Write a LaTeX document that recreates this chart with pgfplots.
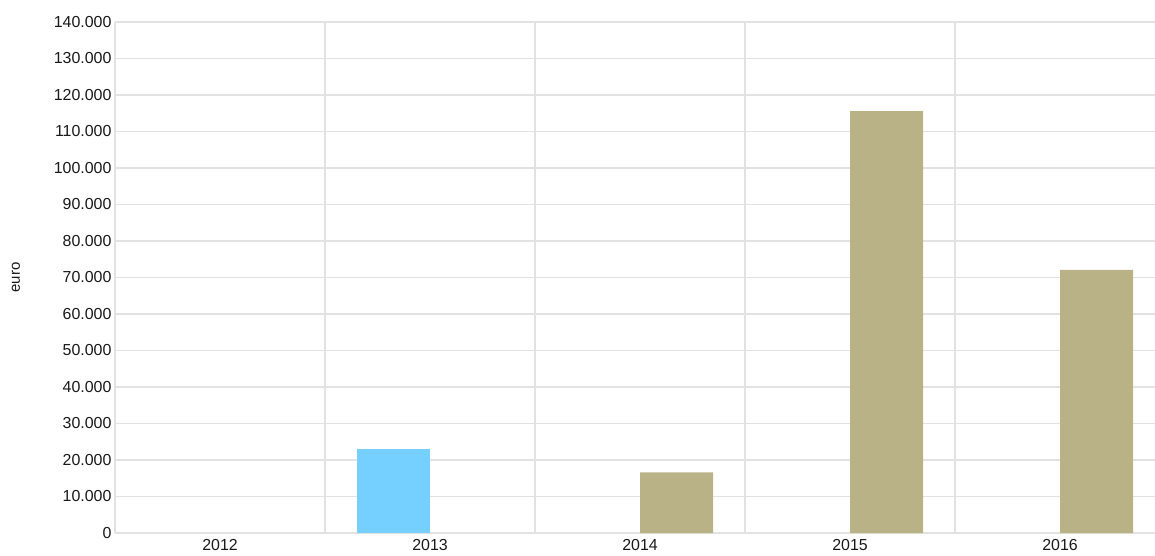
\documentclass[border=0pt]{standalone}
\usepackage{pgfplots}
\pgfplotsset{compat=1.18}
\usepackage{fontspec}
\setmainfont{Liberation Sans}

\definecolor{barblue}{RGB}{117,208,255}
\definecolor{bartan}{RGB}{185,178,135}
\definecolor{gridgray}{RGB}{226,226,226}

\begin{document}
\begin{tikzpicture}
\begin{axis}[
    name=ax,
    scale only axis,
    width=1040bp, height=511bp,
    ybar=0pt, bar width=73bp,
    xmin=-0.5, xmax=4.452,
    ymin=0, ymax=140000,
    xtick={0,1,2,3,4},
    xticklabels={2012,2013,2014,2015,2016},
    minor xtick={0.5,1.5,2.5,3.5},
    ytick distance=10000,
    scaled y ticks=false,
    yticklabel={\pgfmathprintnumber[fixed, precision=0, 1000 sep={.}, assume math mode=true]{\tick}},
    ymajorgrids, xminorgrids,
    major grid style={gridgray, line width=1.5bp},
    minor grid style={gridgray, line width=1.5bp},
    axis x line*=bottom, axis y line*=left,
    axis line style={gridgray, line width=1.5bp, -},
    major tick length=0pt, minor tick length=0pt,
    tick label style={font=\fontsize{16}{19}\selectfont, text=black!90},
    xticklabel style={yshift=-3bp},
    ylabel={euro},
    every axis y label/.style={at={(rel axis cs:0,0.5)}, xshift=-99bp, rotate=90, anchor=center, font=\fontsize{15}{18}\selectfont, text=black!90},
]
\addplot[fill=barblue, draw=none] coordinates {(1,22900)};
\addplot[fill=bartan, draw=none] coordinates {(2,16600) (3,115600) (4,72100)};
\end{axis}
\pgfresetboundingbox
\path[use as bounding box] ([xshift=-115bp,yshift=-22bp]ax.south west) rectangle ([yshift=22bp]ax.north east);
\end{tikzpicture}
\end{document}
